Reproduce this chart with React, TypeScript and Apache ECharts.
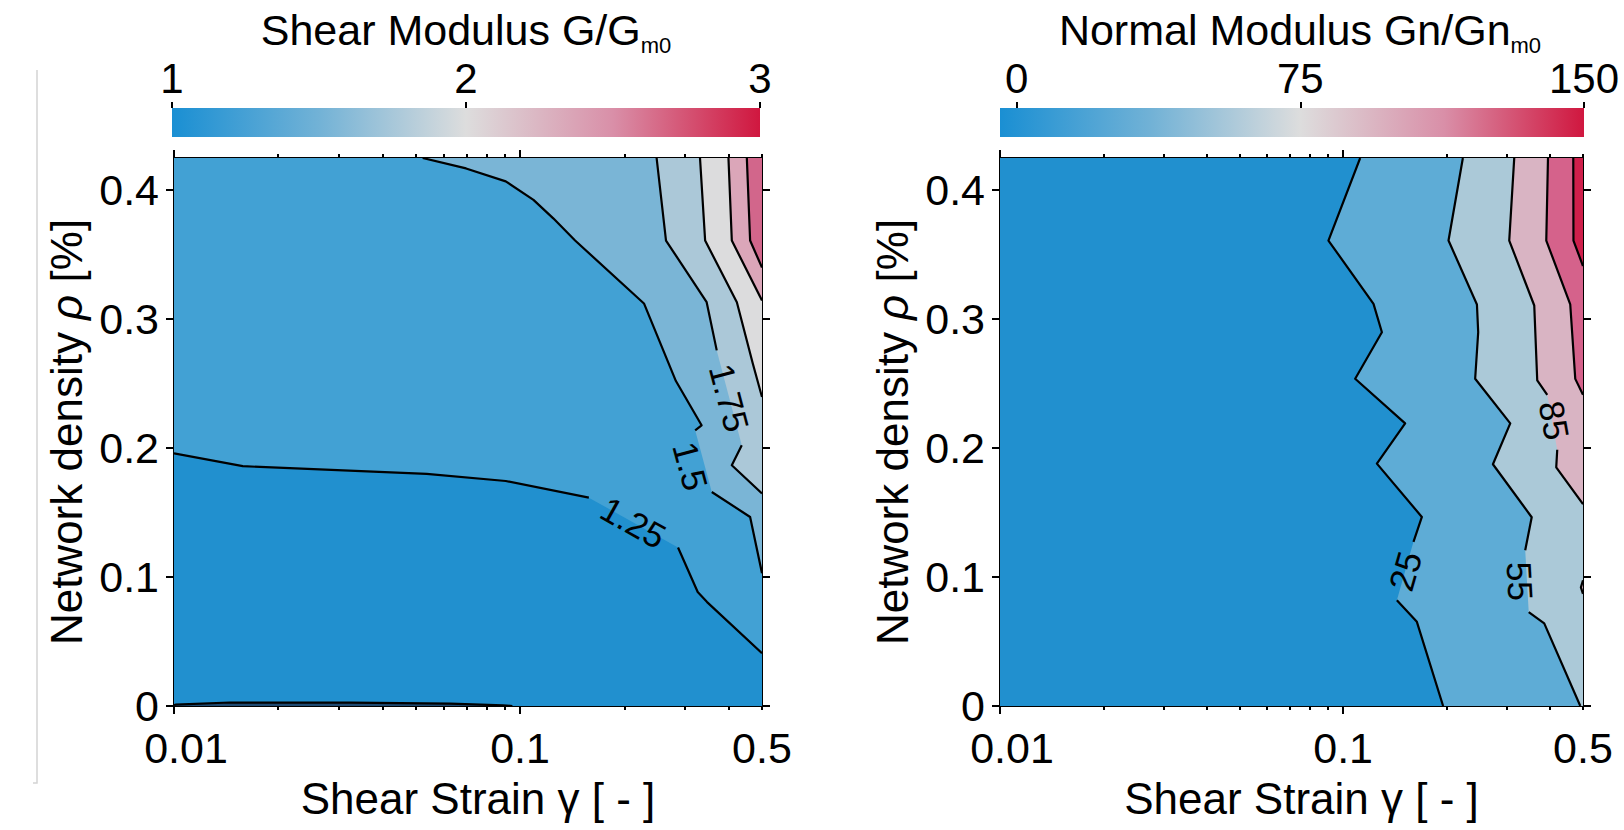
import React, { useEffect, useRef } from 'react';
import * as echarts from 'echarts';

const FONT = '"Liberation Sans", Arial, Helvetica, sans-serif';

// ---------- axes ----------
const strainRange = [0.01, 0.5];
const densityRange = [0, 0.425];
const strainMajorTicks = [0.01, 0.1];
const strainMinorTicks = [0.02, 0.03, 0.04, 0.05, 0.06, 0.07, 0.08, 0.09, 0.2, 0.3, 0.4, 0.5];
const strainTickLabels = [0.01, 0.1, 0.5];
const densityTicks = [0, 0.1, 0.2, 0.3, 0.4];

// ---------- colour bars ----------
const shearBarRange = [1, 3];
const shearBarTicks = [1, 2, 3];
const normalBarRange = [-4.4, 150];
const normalBarTicks = [0, 75, 150];

// ---------- shear modulus G/Gm0 contours: [strain, density] ----------
const shearLevelLabels = ['1.25', '1.5', '1.75', '', '', '', ''];
const shear125 = [[0.01, 0.196], [0.0158, 0.186], [0.0537, 0.18], [0.0909, 0.1745], [0.158, 0.1616], [0.286, 0.1229], [0.326, 0.0884], [0.347, 0.0806], [0.5, 0.0409]];
const shear150 = [[0.0523, 0.425], [0.0698, 0.4169], [0.0909, 0.4069], [0.1093, 0.3925], [0.1247, 0.3782], [0.1442, 0.361], [0.228, 0.3122], [0.282, 0.252], [0.3345, 0.2177], [0.3205, 0.2138], [0.358, 0.166], [0.462, 0.1466], [0.5, 0.103]];
const shear175 = [[0.248, 0.425], [0.264, 0.361], [0.346, 0.3132], [0.37, 0.2758], [0.437, 0.2022], [0.409, 0.1867], [0.5, 0.1648]];
const shear200 = [[0.331, 0.425], [0.3425, 0.361], [0.423, 0.3132], [0.4705, 0.2655], [0.5, 0.2396]];
const shear225 = [[0.4, 0.425], [0.409, 0.361], [0.5, 0.3145]];
const shear250 = [[0.452, 0.425], [0.462, 0.361], [0.5, 0.34]];
// thin low-value sliver along rho = 0 (stored right to left)
const shearLow = [[0.095, 0], [0.0893, 0.0005], [0.0628, 0.0018], [0.0323, 0.0026], [0.0145, 0.0027], [0.0101, 0.001], [0.01, 0.0006]];
const shearLines = [shear125, shear150, shear175, shear200, shear225, shear250, shearLow];
const shearLabelSegment = [4, 9, 3, -1, -1, -1, -1];

// ---------- normal modulus Gn/Gnm0 contours ----------
const normalLevelLabels = ['25', '55', '85', '', '', ''];
const normal25 = [[0.1121, 0.425], [0.0906, 0.361], [0.1226, 0.3119], [0.1297, 0.2899], [0.1084, 0.2538], [0.1516, 0.2192], [0.1254, 0.188], [0.1696, 0.1466], [0.1603, 0.1273], [0.1434, 0.0821], [0.164, 0.0653], [0.1956, 0]];
const normal55 = [[0.2233, 0.425], [0.2028, 0.361], [0.2454, 0.3114], [0.2475, 0.2899], [0.2425, 0.2538], [0.3069, 0.2192], [0.2732, 0.1875], [0.3544, 0.1464], [0.3393, 0.1208], [0.3474, 0.0728], [0.3855, 0.0641], [0.491, 0]];
const normal85 = [[0.3152, 0.425], [0.3048, 0.361], [0.3605, 0.3106], [0.3678, 0.2525], [0.3934, 0.2413], [0.4206, 0.1987], [0.4178, 0.1851], [0.5, 0.1565]];
const normal115 = [[0.3953, 0.425], [0.3908, 0.361], [0.459, 0.3114], [0.4747, 0.2537], [0.5, 0.2413]];
const normal145 = [[0.4684, 0.425], [0.469, 0.361], [0.5, 0.3412]];
const normal85b = [[0.5, 0.0975], [0.493, 0.092], [0.5, 0.087]];
const normalLines = [normal25, normal55, normal85, normal115, normal145, normal85b];
const normalLabelSegment = [8, 8, 4, -1, -1, -1];

// ---------- styles ----------
const shearBase = '#2190cf';
const shearFills = ['#42a1d4', '#7ab5d6', '#abc8d8', '#dcdcdd', '#dba6b9', '#d2668b', '#1f4a72'];
const shearLabelNudge = [[0, 0], [-13, 5], [0, 0], [0, 0], [0, 0], [0, 0], [0, 0]];
const normalBase = '#2190cf';
const normalFills = ['#5eacd6', '#abc9d8', '#d9b4c3', '#d5628b', '#cf1f4b', '#d9b4c3'];
const normalLabelNudge = [[0, 0], [-7, 0], [2, -2], [0, 0], [0, 0], [0, 0]];
const shearBarStops = [
  { offset: 0, color: '#1a8fd3' },
  { offset: 0.25, color: '#72b2d6' },
  { offset: 0.5, color: '#dddddd' },
  { offset: 0.75, color: '#d98fa8' },
  { offset: 1, color: '#d0173f' },
];
const normalBarStops = [
  { offset: 0, color: '#1a8fd3' },
  { offset: 0.26, color: '#72b2d6' },
  { offset: 0.514, color: '#dddddd' },
  { offset: 0.76, color: '#d98fa8' },
  { offset: 1, color: '#d0173f' },
];

const lg = (v: number) => Math.log10(v);

function boundaryT(p: number[], xr: number[], yr: number[]) {
  const fx = (lg(p[0]) - lg(xr[0])) / (lg(xr[1]) - lg(xr[0]));
  const fy = (p[1] - yr[0]) / (yr[1] - yr[0]);
  const eps = 1e-3;
  if (fy <= eps) return fx;
  if (fx >= 1 - eps) return 1 + fy;
  if (fy >= 1 - eps) return 2 + (1 - fx);
  return 3 + (1 - fy);
}

function closeRegion(points: number[][], xr: number[], yr: number[]) {
  const corners = [[xr[0], yr[0]], [xr[1], yr[0]], [xr[1], yr[1]], [xr[0], yr[1]]];
  const tEnd = boundaryT(points[points.length - 1], xr, yr);
  let tStart = boundaryT(points[0], xr, yr);
  if (tStart <= tEnd) tStart += 4;
  const out = points.slice();
  for (let k = Math.floor(tEnd) + 1; k < tStart; k++) out.push(corners[k % 4]);
  return out;
}

function contourSeries(xi: number, yi: number, lines: number[][][], fills: string[], labelSeg: number[], labels: string[], nudge: number[][], base: string) {
  return {
    type: 'custom',
    xAxisIndex: xi,
    yAxisIndex: yi,
    silent: true,
    clip: true,
    data: [[-1, 0.2]],
    renderItem: (_params: any, api: any) => {
      const px = (p: number[]) => api.coord([lg(p[0]), p[1]]);
      const children: any[] = [];
      const a = px([strainRange[0], densityRange[0]]);
      const b = px([strainRange[1], densityRange[1]]);
      children.push({ type: 'rect', shape: { x: a[0], y: b[1], width: b[0] - a[0], height: a[1] - b[1] }, style: { fill: base } });
      lines.forEach((pts, i) => {
        children.push({ type: 'polygon', shape: { points: closeRegion(pts, strainRange, densityRange).map(px) }, style: { fill: fills[i] } });
      });
      lines.forEach((pts, i) => {
        const pix = pts.map(px);
        const g = labelSeg[i];
        const parts = g >= 0 ? [pix.slice(0, g + 1), pix.slice(g + 1)] : [pix];
        parts.forEach((part) => {
          if (part.length > 1) children.push({ type: 'polyline', shape: { points: part }, style: { stroke: '#000', lineWidth: 2.2, fill: 'none', lineJoin: 'round' } });
        });
        if (g >= 0) {
          const p = pix[g];
          const q = pix[g + 1];
          let ang = Math.atan2(q[1] - p[1], q[0] - p[0]);
          if (ang > Math.PI / 2) ang -= Math.PI;
          if (ang <= -Math.PI / 2) ang += Math.PI;
          children.push({
            type: 'text',
            x: (p[0] + q[0]) / 2 + nudge[i][0],
            y: (p[1] + q[1]) / 2 + nudge[i][1],
            rotation: -ang,
            style: { text: labels[i], fontSize: 35, fontFamily: FONT, fill: '#000', align: 'center', verticalAlign: 'middle' },
          });
        }
      });
      return { type: 'group', children };
    },
  };
}

function barSeries(xi: number, yi: number, range: number[], stops: any[]) {
  return {
    type: 'custom',
    xAxisIndex: xi,
    yAxisIndex: yi,
    silent: true,
    data: [[range[0], 0]],
    renderItem: (_params: any, api: any) => {
      const a = api.coord([range[0], 0]);
      const b = api.coord([range[1], 1]);
      return {
        type: 'rect',
        shape: { x: a[0], y: b[1], width: b[0] - a[0], height: a[1] - b[1] },
        style: { fill: new echarts.graphic.LinearGradient(0, 0, 1, 0, stops) },
      };
    },
  };
}

const fmtStrain = (v: number) => {
  const s = String(Number(Math.pow(10, v).toPrecision(3)));
  return Math.abs(v - lg(strainTickLabels[0])) < 1e-9 ? `{first|${s}}` : s;
};

const tickLabelText = { fontSize: 43, lineHeight: 40, fontFamily: FONT, color: '#000' };

function strainAxes(gi: number, name: string) {
  const common = {
    type: 'value',
    gridIndex: gi,
    min: lg(strainRange[0]),
    max: lg(strainRange[1]),
    splitLine: { show: false },
  };
  const line = { show: true, onZero: false, lineStyle: { color: '#000', width: 2 } };
  return [
    {
      ...common,
      position: 'bottom',
      axisLine: line,
      axisTick: { show: true, customValues: strainMajorTicks.map(lg), length: 8, lineStyle: { color: '#000', width: 2 } },
      axisLabel: {
        show: true,
        customValues: strainTickLabels.map(lg),
        formatter: fmtStrain,
        ...tickLabelText,
        margin: 22,
        rich: { first: { ...tickLabelText, padding: [0, 0, 0, 24] } },
      },
      name,
      nameLocation: 'middle',
      nameGap: 70,
      nameTextStyle: { fontSize: 44, fontFamily: FONT, color: '#000', padding: [0, 0, 0, 20] },
    },
    {
      ...common,
      position: 'bottom',
      axisLine: { show: false, onZero: false },
      axisTick: { show: true, customValues: strainMinorTicks.map(lg), length: 4, lineStyle: { color: '#000', width: 2 } },
      axisLabel: { show: false },
    },
    {
      ...common,
      position: 'top',
      axisLine: line,
      axisTick: { show: true, customValues: strainMajorTicks.map(lg), length: 8, lineStyle: { color: '#000', width: 2 } },
      axisLabel: { show: false },
    },
    {
      ...common,
      position: 'top',
      axisLine: { show: false, onZero: false },
      axisTick: { show: true, customValues: strainMinorTicks.map(lg), length: 4, lineStyle: { color: '#000', width: 2 } },
      axisLabel: { show: false },
    },
  ];
}

function densityAxes(gi: number) {
  const common = {
    type: 'value',
    gridIndex: gi,
    min: densityRange[0],
    max: densityRange[1],
    splitLine: { show: false },
    axisLine: { show: true, onZero: false, lineStyle: { color: '#000', width: 2 } },
    axisTick: { show: true, customValues: densityTicks, length: 8, lineStyle: { color: '#000', width: 2 } },
  };
  return [
    {
      ...common,
      position: 'left',
      axisLabel: { show: true, customValues: densityTicks, fontSize: 43, lineHeight: 34, fontFamily: FONT, color: '#000', margin: 15 },
      name: '{a|Network density }{b|ρ}{a| [%]}',
      nameLocation: 'middle',
      nameGap: 86,
      nameRotate: 90,
      nameTextStyle: {
        rich: {
          a: { fontSize: 44, fontFamily: FONT, color: '#000' },
          b: { fontSize: 44, fontFamily: FONT, color: '#000', fontStyle: 'italic' },
        },
      },
    },
    { ...common, position: 'right', axisLabel: { show: false } },
  ];
}

function barAxis(gi: number, range: number[], ticks: number[], main: string, shift: number) {
  return {
    type: 'value',
    gridIndex: gi,
    position: 'top',
    min: range[0],
    max: range[1],
    splitLine: { show: false },
    axisLine: { show: false, onZero: false },
    axisTick: { show: true, customValues: ticks, length: 6, lineStyle: { color: '#000', width: 2 } },
    axisLabel: { show: true, customValues: ticks, fontSize: 42, lineHeight: 42, fontFamily: FONT, color: '#000', margin: 9 },
    name: `{a|${main}}{b|m0}`,
    nameLocation: 'middle',
    nameGap: 42,
    nameTextStyle: {
      padding: [0, 0, 0, shift],
      rich: {
        a: { fontSize: 43, fontFamily: FONT, color: '#000', lineHeight: 52, verticalAlign: 'middle' },
        b: { fontSize: 22, fontFamily: FONT, color: '#000', lineHeight: 52, verticalAlign: 'bottom' },
      },
    },
  };
}

function barYAxis(gi: number) {
  return { type: 'value', gridIndex: gi, min: 0, max: 1, show: false };
}

export default function App() {
  const ref = useRef<HTMLDivElement>(null);
  useEffect(() => {
    if (!ref.current) return;
    const chart = echarts.init(ref.current, undefined, { renderer: 'svg' });
    const option: any = {
      animation: false,
      backgroundColor: '#ffffff',
      grid: [
        { left: 174, top: 158, width: 588, height: 548, outerBoundsMode: 'none' },
        { left: 1000, top: 158, width: 583, height: 548, outerBoundsMode: 'none' },
        { left: 172, top: 108, width: 588, height: 29, outerBoundsMode: 'none' },
        { left: 1000, top: 108, width: 584, height: 29, outerBoundsMode: 'none' },
      ],
      xAxis: [
        ...strainAxes(0, 'Shear Strain γ [ - ]'),
        ...strainAxes(1, 'Shear Strain γ [ - ]'),
        barAxis(2, shearBarRange, shearBarTicks, 'Shear Modulus G/G', 0),
        barAxis(3, normalBarRange, normalBarTicks, 'Normal Modulus Gn/Gn', 16),
      ],
      yAxis: [...densityAxes(0), ...densityAxes(1), barYAxis(2), barYAxis(3)],
      series: [
        contourSeries(0, 0, shearLines, shearFills, shearLabelSegment, shearLevelLabels, shearLabelNudge, shearBase),
        contourSeries(4, 2, normalLines, normalFills, normalLabelSegment, normalLevelLabels, normalLabelNudge, normalBase),
        barSeries(8, 4, shearBarRange, shearBarStops),
        barSeries(9, 5, normalBarRange, normalBarStops),
      ],
      graphic: [
        {
          type: 'polyline',
          silent: true,
          shape: { points: [[37, 70], [37, 783], [33, 783]] },
          style: { stroke: '#d4d4d4', lineWidth: 1.5, fill: 'none' },
        },
      ],
    };
    chart.setOption(option);
    return () => chart.dispose();
  }, []);
  return <div ref={ref} style={{ position: 'fixed', left: 0, top: 0, width: 1624, height: 830 }} />;
}
